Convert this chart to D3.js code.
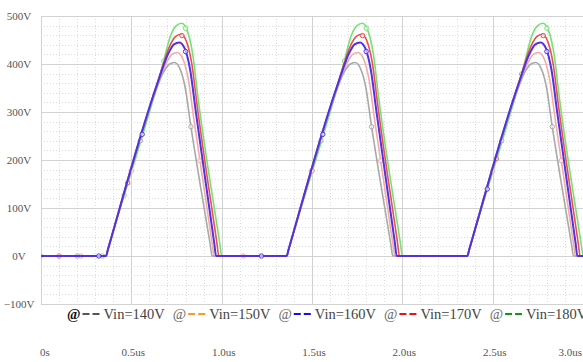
<!DOCTYPE html>
<html>
<head>
<meta charset="utf-8">
<script src="https://cdn.jsdelivr.net/npm/d3@7"></script>
<style>
  html, body { margin: 0; padding: 0; background: #fff; }
  svg { display: block; }
</style>
</head>
<body>
<svg id="chart" width="583" height="362"></svg>
<script>
// series names and colours
const vinLabels = ['Vin=140V', 'Vin=150V', 'Vin=160V', 'Vin=170V', 'Vin=180V']
const lineColors = ['#a9a9a9', '#f3aaa8', '#5530e0', '#e8504c', '#74e274']
const legendColors = ['#555555', '#ff9922', '#1111ee', '#ee1111', '#119911']

// tick labels
const yTickValues = [-100, 0, 100, 200, 300, 400, 500]
const yTickLabels = ['\u2212100V', '0V', '100V', '200V', '300V', '400V', '500V']
const xTickValues = [0, 0.5, 1.0, 1.5, 2.0, 2.5, 3.0]
const xTickLabels = ['0s', '0.5us', '1.0us', '1.5us', '2.0us', '2.5us', '3.0us']

// waveforms, [time in us, volts]
const v140 = [
  [0, 0], [0.36, 0], [0.37, 13], [0.615, 322], [0.678, 383], [0.708, 399], [0.738, 403], [0.768, 391], [0.798, 351], [0.828, 274], [0.937, 23], [0.947, 0],
  [1.36, 0], [1.37, 13], [1.615, 322], [1.678, 383], [1.708, 399], [1.738, 403], [1.768, 391], [1.798, 351], [1.828, 274], [1.937, 23], [1.947, 0],
  [2.36, 0], [2.37, 13], [2.615, 322], [2.678, 383], [2.708, 399], [2.738, 403], [2.768, 391], [2.798, 351], [2.828, 274], [2.937, 23], [2.947, 0], [3.0, 0]
]
const v150 = [
  [0, 0], [0.36, 0], [0.37, 13], [0.628, 339], [0.695, 403], [0.725, 420], [0.755, 424], [0.785, 411], [0.815, 369], [0.845, 288], [0.948, 25], [0.958, 0],
  [1.36, 0], [1.37, 13], [1.628, 339], [1.695, 403], [1.725, 420], [1.755, 424], [1.785, 411], [1.815, 369], [1.845, 288], [1.948, 25], [1.958, 0],
  [2.36, 0], [2.37, 13], [2.628, 339], [2.695, 403], [2.725, 420], [2.755, 424], [2.785, 411], [2.815, 369], [2.845, 288], [2.948, 25], [2.958, 0], [3.0, 0]
]
const v160 = [
  [0, 0], [0.36, 0], [0.37, 13], [0.641, 356], [0.706, 423], [0.736, 441], [0.766, 445], [0.796, 432], [0.826, 387], [0.856, 303], [0.959, 27], [0.969, 0],
  [1.36, 0], [1.37, 13], [1.641, 356], [1.706, 423], [1.736, 441], [1.766, 445], [1.796, 432], [1.826, 387], [1.856, 303], [1.959, 27], [1.969, 0],
  [2.36, 0], [2.37, 13], [2.641, 356], [2.706, 423], [2.736, 441], [2.766, 445], [2.796, 432], [2.826, 387], [2.856, 303], [2.959, 27], [2.969, 0], [3.0, 0]
]
const v170 = [
  [0, 0], [0.36, 0], [0.37, 13], [0.652, 370], [0.714, 439], [0.744, 457], [0.774, 462], [0.804, 448], [0.834, 402], [0.864, 314], [0.974, 26], [0.984, 0],
  [1.36, 0], [1.37, 13], [1.652, 370], [1.714, 439], [1.744, 457], [1.774, 462], [1.804, 448], [1.834, 402], [1.864, 314], [1.974, 26], [1.984, 0],
  [2.36, 0], [2.37, 13], [2.652, 370], [2.714, 439], [2.744, 457], [2.774, 462], [2.804, 448], [2.834, 402], [2.864, 314], [2.974, 26], [2.984, 0], [3.0, 0]
]
const v180 = [
  [0, 0], [0.36, 0], [0.37, 13], [0.667, 388], [0.719, 461], [0.749, 480], [0.779, 485], [0.809, 470], [0.839, 422], [0.869, 330], [0.99, 25], [1.0, 0],
  [1.36, 0], [1.37, 13], [1.667, 388], [1.719, 461], [1.749, 480], [1.779, 485], [1.809, 470], [1.839, 422], [1.869, 330], [1.99, 25], [2.0, 0],
  [2.36, 0], [2.37, 13], [2.667, 388], [2.719, 461], [2.749, 480], [2.779, 485], [2.809, 470], [2.839, 422], [2.869, 330], [2.99, 25], [3.0, 0]
]
const waves = [v140, v150, v160, v170, v180]

// marker times on each trace
const marks140 = [0.2, 0.55, 0.83, 1.55, 1.83, 2.55, 2.83]
const marks150 = [0.1, 0.22, 0.5, 0.88, 1.12, 1.5, 1.88, 2.5, 2.88]
const marks160 = [0.32, 0.56, 0.8, 1.22, 1.56, 1.8, 2.47, 2.8]
const marks170 = [0.1, 0.48, 0.78, 1.5, 1.78, 2.52, 2.78]
const marks180 = [0, 0.34, 0.46, 0.68, 0.8, 1.68, 1.8, 2.66, 2.8]
const marks = [marks140, marks150, marks160, marks170, marks180]

const svg = d3.select('#chart')
const plotLeft = 41, plotRight = 583, plotTop = 16, plotBottom = 304

const x = d3.scaleLinear().domain([0, 3]).range([plotLeft, plotRight])
const y = d3.scaleLinear().domain([-100, 500]).range([plotBottom, plotTop])

const labelFont = '"Liberation Serif", "DejaVu Serif", serif'

// y labels (drawn first, the plot covers the tail of -100V)
svg.append('g')
  .selectAll('text')
  .data(yTickValues)
  .enter()
  .append('text')
  .attr('x', 19)
  .attr('y', (d) => Math.min(Math.max(y(d), 13), 307))
  .attr('dy', '0.35em')
  .attr('text-anchor', 'middle')
  .attr('font-family', labelFont)
  .attr('font-size', 11)
  .attr('fill', '#555')
  .text((d, i) => yTickLabels[i])

// plot area
svg.append('rect')
  .attr('x', plotLeft).attr('y', plotTop)
  .attr('width', plotRight - plotLeft).attr('height', plotBottom - plotTop)
  .attr('fill', '#fff')

svg.append('clipPath').attr('id', 'plotClip')
  .append('rect')
  .attr('x', plotLeft).attr('y', plotTop - 2)
  .attr('width', plotRight - plotLeft).attr('height', plotBottom - plotTop + 4)

const grid = svg.append('g')

// minor grid
grid.selectAll('.vminor')
  .data(x.ticks(30))
  .enter()
  .append('line')
  .attr('x1', (d) => Math.round(x(d)) + 0.5).attr('x2', (d) => Math.round(x(d)) + 0.5)
  .attr('y1', plotTop).attr('y2', plotBottom)
  .attr('stroke', '#dcdcdc')
  .attr('stroke-dasharray', '1,2')

grid.selectAll('.hminor')
  .data(y.ticks(24))
  .enter()
  .append('line')
  .attr('x1', plotLeft).attr('x2', plotRight)
  .attr('y1', (d) => Math.round(y(d)) + 0.5).attr('y2', (d) => Math.round(y(d)) + 0.5)
  .attr('stroke', '#dcdcdc')
  .attr('stroke-dasharray', '1,2')

// major grid
grid.selectAll('.vmajor')
  .data(xTickValues)
  .enter()
  .append('line')
  .attr('x1', (d) => Math.round(x(d)) + 0.5).attr('x2', (d) => Math.round(x(d)) + 0.5)
  .attr('y1', plotTop).attr('y2', plotBottom)
  .attr('stroke', '#d2d2d2')

grid.selectAll('.hmajor')
  .data(yTickValues)
  .enter()
  .append('line')
  .attr('x1', plotLeft).attr('x2', plotRight)
  .attr('y1', (d) => Math.round(y(d)) + 0.5).attr('y2', (d) => Math.round(y(d)) + 0.5)
  .attr('stroke', '#d2d2d2')

// traces
const line = d3.line()
  .x((d) => x(d[0]))
  .y((d) => y(d[1]))
  .curve(d3.curveMonotoneX)

const plot = svg.append('g').attr('clip-path', 'url(#plotClip)')

// draw order: green, red, pink, gray, blue on top
const order = [4, 3, 1, 0, 2]

const valueAt = (data, t) => {
  const i = d3.bisector((d) => d[0]).right(data, t)
  if (i <= 0) return data[0][1]
  if (i >= data.length) return data[data.length - 1][1]
  const a = data[i - 1], b = data[i]
  return a[1] + (b[1] - a[1]) * (t - a[0]) / (b[0] - a[0])
}

order.forEach((k) => {
  plot.append('path')
    .datum(waves[k])
    .attr('fill', 'none')
    .attr('stroke', lineColors[k])
    .attr('stroke-width', k === 2 ? 2 : 1.6)
    .attr('stroke-linejoin', 'round')
    .attr('d', line)

  plot.append('g')
    .selectAll('circle')
    .data(marks[k])
    .enter()
    .append('circle')
    .attr('cx', (t) => x(t))
    .attr('cy', (t) => y(valueAt(waves[k], t)))
    .attr('r', 2.2)
    .attr('fill', '#fff')
    .attr('fill-opacity', 0.6)
    .attr('stroke', lineColors[k])
    .attr('stroke-width', 1)
})

// x labels
const xLabels = svg.append('g')
  .selectAll('text')
  .data(xTickValues)
  .enter()
  .append('text')
  .attr('y', 352)
  .attr('dy', '0.35em')
  .attr('text-anchor', 'middle')
  .attr('font-family', labelFont)
  .attr('font-size', 11)
  .attr('fill', '#555')
  .text((d, i) => xTickLabels[i])

xLabels.attr('x', function (d) {
  const w = this.getComputedTextLength()
  return Math.min(Math.max(x(d) + 2, 40 + w / 2), 582 - w / 2)
})

// legend (runs past the right edge, as in the original)
const legend = svg.append('g')
const legendY = 319
let cursor = 67
vinLabels.forEach((label, i) => {
  const at = legend.append('text')
    .attr('x', cursor).attr('y', legendY)
    .attr('font-family', labelFont)
    .attr('font-size', 14.5)
    .attr('font-weight', i === 0 ? 'bold' : 'normal')
    .attr('fill', i === 0 ? '#111' : '#666')
    .text('@')
  cursor += at.node().getComputedTextLength() + 2

  legend.append('line')
    .attr('x1', cursor).attr('x2', cursor + 18)
    .attr('y1', legendY - 5).attr('y2', legendY - 5)
    .attr('stroke', legendColors[i])
    .attr('stroke-width', 2)
    .attr('stroke-dasharray', '7,3')
  cursor += 21

  const txt = legend.append('text')
    .attr('x', cursor).attr('y', legendY)
    .attr('font-family', labelFont)
    .attr('font-size', 14.5)
    .attr('fill', '#444')
    .text(label)
  cursor += txt.node().getComputedTextLength() + 8
})
</script>
</body>
</html>
